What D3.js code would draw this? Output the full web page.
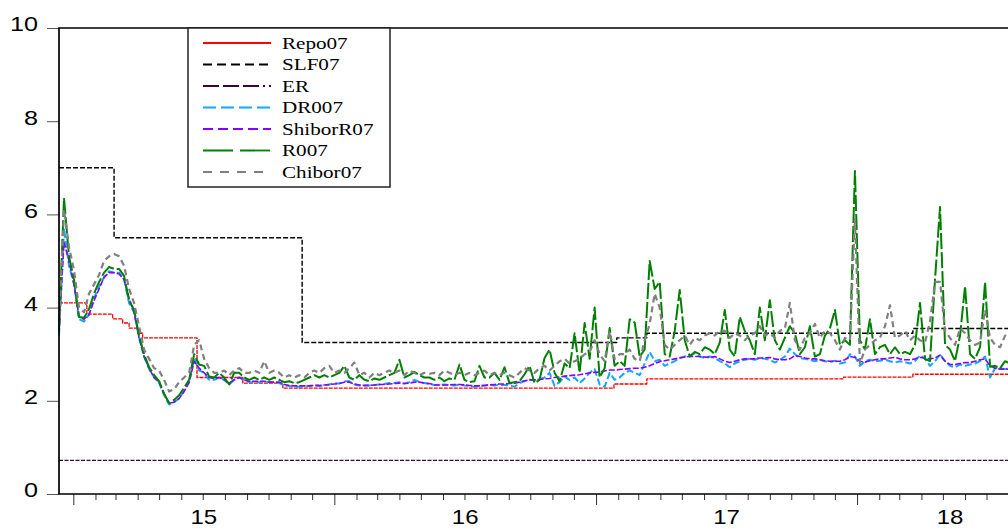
<!DOCTYPE html>
<html>
<head>
<meta charset="utf-8">
<script src="https://cdn.jsdelivr.net/npm/d3@7"></script>
<style>
body { margin: 0; background: #fff; }
svg { display: block; }
</style>
</head>
<body>
<script>
// weekly samples, the first one is 2014-12-12
var firstDay = new Date(2014, 11, 12);
var lastDay = new Date(2018, 8, 18);

var r007 = [
3.5, 6.35, 5.1, 4.6, 3.8, 3.78, 3.97, 4.3, 4.55, 4.75,
4.87, 4.83, 4.83, 4.68, 4.15, 3.95, 3.4, 3.0, 2.72, 2.55,
2.42, 2.15, 1.95, 2.02, 2.12, 2.28, 2.45, 3.0, 2.78, 2.75,
2.52, 2.5, 2.6, 2.5, 2.35, 2.6, 2.6, 2.5,
2.45, 2.5, 2.45, 2.5, 2.45, 2.5, 2.45, 2.4, 2.42, 2.38,
2.4, 2.45, 2.5, 2.55, 2.5, 2.55, 2.5, 2.55, 2.6, 2.75,
2.5, 2.45, 2.55, 2.45, 2.42, 2.48, 2.45, 2.5, 2.55, 2.6,
2.88, 2.5, 2.55, 2.62, 2.55, 2.5, 2.5,
2.45, 2.5, 2.42, 2.48, 2.45, 2.78, 2.45, 2.4, 2.42, 2.75,
2.5, 2.5, 2.6, 2.45, 2.72, 2.38, 2.4, 2.42, 2.57, 2.75,
2.38, 2.45, 2.92, 3.1, 2.6, 2.42, 2.8, 2.7, 3.45, 2.6,
3.67, 2.9, 4.0, 2.5, 2.7, 3.56, 2.75, 2.85, 2.75, 3.75,
3.68, 2.95, 3.1, 5.0, 4.4, 4.55, 3.0, 2.95, 3.5, 4.38,
3.3, 2.95, 3.05, 3.0, 3.15, 3.1, 3.0, 3.25, 3.95, 3.1,
2.95, 3.8, 3.5, 3.3, 3.0, 4.0, 3.3, 4.16, 3.3, 3.1,
3.35, 3.6, 3.45, 3.0, 3.15, 3.6, 2.95, 3.0, 3.4, 3.55,
3.95, 3.2, 3.3, 3.2, 6.93, 3.3, 3.1, 3.75, 3.0, 3.15,
3.2, 3.0, 3.15, 3.0, 3.05, 3.0, 3.2, 4.1, 2.9, 2.85,
4.6, 6.16, 3.2, 3.1, 2.85, 3.4, 4.46, 3.0, 2.9, 3.15,
4.55, 2.73, 2.75, 2.7, 2.85, 2.8
];

var chibor07 = [
3.6, 6.1, 5.3, 4.8, 4.0, 3.9, 4.3, 4.5, 4.7, 5.0,
5.1, 5.15, 5.1, 4.9, 4.4, 4.1, 3.6, 3.1, 2.9, 2.7,
2.65, 2.45, 2.2, 2.25, 2.4, 2.5, 2.6, 3.2, 3.3, 2.9,
2.7, 2.6, 2.6, 2.65, 2.55, 2.65, 2.7, 2.6,
2.6, 2.65, 2.6, 2.85, 2.6, 2.65, 2.6, 2.5, 2.55, 2.5,
2.55, 2.5, 2.6, 2.65, 2.6, 2.7, 2.75, 2.6, 2.65, 2.6,
2.7, 2.82, 2.55, 2.6, 2.5, 2.6, 2.55, 2.6, 2.65, 2.6,
2.65, 2.55, 2.65, 2.6, 2.55, 2.6, 2.58,
2.6, 2.55, 2.65, 2.6, 2.55, 2.6, 2.55, 2.6, 2.55, 2.6,
2.65, 2.55, 2.6, 2.55, 2.6, 2.55, 2.5, 2.6, 2.7, 2.65,
2.6, 2.7, 2.75, 2.65, 2.75, 2.85, 2.9, 2.8, 2.85, 2.9,
3.0, 3.05, 3.3, 3.0, 2.85, 3.5, 2.9, 3.0, 3.0, 3.1,
2.9, 2.85, 3.3, 3.65, 4.3, 4.0, 3.2, 3.1, 3.2, 3.3,
3.4, 3.2, 3.35, 3.3, 3.4, 3.45, 3.4, 3.5, 3.5, 3.35,
3.45, 3.4, 3.3, 3.4, 3.45, 3.6, 3.4, 3.45, 3.35, 3.5,
3.55, 4.1, 3.3, 3.1, 3.35, 3.45, 3.65, 3.35, 3.5, 3.45,
3.3, 3.1, 3.35, 3.3, 5.9, 2.8, 3.1, 3.2, 3.3, 3.35,
3.6, 4.05, 3.35, 3.4, 3.5, 3.3, 3.4, 3.3, 3.25, 3.7,
4.55, 4.55, 3.5, 3.35, 3.2, 3.55, 3.45, 3.3, 3.2, 3.25,
3.95, 3.35, 3.2, 3.15, 3.4, 3.3
];

var dr007 = [
3.4, 5.7, 4.9, 4.5, 3.75, 3.7, 3.85, 4.2, 4.45, 4.65,
4.78, 4.75, 4.75, 4.6, 4.1, 3.9, 3.35, 2.95, 2.68, 2.5,
2.38, 2.12, 1.92, 1.97, 2.05, 2.22, 2.4, 2.9, 2.65, 2.6,
2.45, 2.45, 2.5, 2.45, 2.35, 2.45, 2.5, 2.45,
2.4, 2.4, 2.4, 2.42, 2.4, 2.4, 2.38, 2.33, 2.32, 2.3,
2.3, 2.3, 2.32, 2.33, 2.32, 2.33, 2.35, 2.38, 2.37, 2.42,
2.42, 2.35, 2.33, 2.33, 2.33, 2.34, 2.35, 2.36, 2.38, 2.38,
2.4, 2.37, 2.4, 2.45, 2.4, 2.38, 2.36,
2.34, 2.34, 2.35, 2.34, 2.33, 2.35, 2.33, 2.32, 2.3, 2.32,
2.33, 2.34, 2.33, 2.34, 2.34, 2.33, 2.3, 2.38, 2.42, 2.45,
2.44, 2.46, 2.5, 2.6, 2.32, 2.4, 2.52, 2.45, 2.5, 2.38,
2.48, 2.6, 2.68, 2.35, 2.3, 2.6, 2.45, 2.5, 2.6, 2.65,
2.6, 2.55, 2.8, 3.05, 2.85, 2.88, 2.75, 2.8, 2.85, 2.92,
2.95, 2.95, 3.02, 2.95, 2.92, 2.95, 2.92, 2.85, 2.8, 2.72,
2.8, 2.85, 2.88, 2.9, 2.88, 2.92, 2.9, 2.88, 2.82, 2.88,
2.95, 3.12, 3.0, 2.92, 2.9, 2.88, 2.85, 2.88, 2.85, 2.83,
2.86, 2.8, 2.82, 3.0, 2.95, 2.75, 2.85, 2.88, 2.85, 2.86,
2.88, 2.85, 2.82, 2.85, 2.83, 2.8, 2.85, 2.98, 2.9, 2.75,
2.85, 3.0, 2.85, 2.75, 2.72, 2.78, 2.75, 2.78, 2.8, 2.85,
2.95, 2.5, 2.7, 2.7, 2.68, 2.7
];

var shiborR07 = [
3.5, 5.4, 5.0, 4.5, 3.8, 3.75, 3.85, 4.15, 4.4, 4.65,
4.75, 4.75, 4.72, 4.6, 4.2, 3.9, 3.35, 2.95, 2.7, 2.5,
2.4, 2.15, 1.95, 1.97, 2.05, 2.2, 2.4, 2.85, 2.7, 2.6,
2.5, 2.48, 2.5, 2.45, 2.38, 2.45, 2.5, 2.45,
2.42, 2.42, 2.42, 2.42, 2.4, 2.4, 2.4, 2.35, 2.33, 2.32,
2.32, 2.32, 2.32, 2.33, 2.33, 2.34, 2.35, 2.36, 2.37, 2.4,
2.4, 2.36, 2.34, 2.33, 2.33, 2.34, 2.35, 2.35, 2.36, 2.37,
2.38, 2.37, 2.38, 2.4, 2.4, 2.38, 2.37,
2.34, 2.34, 2.34, 2.34, 2.35, 2.35, 2.34, 2.33, 2.32, 2.32,
2.33, 2.34, 2.35, 2.36, 2.36, 2.37, 2.38, 2.4, 2.43, 2.45,
2.45, 2.46, 2.47, 2.48, 2.5, 2.51, 2.53, 2.54, 2.55, 2.56,
2.58, 2.6, 2.61, 2.62, 2.64, 2.66, 2.66, 2.67, 2.68, 2.69,
2.7, 2.7, 2.72, 2.75, 2.8, 2.84, 2.86, 2.88, 2.9, 2.92,
2.94, 2.95, 2.95, 2.95, 2.94, 2.93, 2.95, 2.9, 2.85, 2.82,
2.85, 2.88, 2.9, 2.9, 2.9, 2.92, 2.92, 2.93, 2.9, 2.88,
2.88, 2.9, 2.97, 2.95, 2.92, 2.9, 2.9, 2.88, 2.86, 2.85,
2.85, 2.85, 2.88, 2.95, 2.93, 2.85, 2.83, 2.86, 2.88, 2.9,
2.9, 2.92, 2.93, 2.9, 2.88, 2.88, 2.9, 2.93, 2.92, 2.9,
2.92, 2.98, 2.85, 2.78, 2.78, 2.8, 2.82, 2.82, 2.85, 2.88,
2.9, 2.75, 2.7, 2.68, 2.68, 2.68
];

// policy rates move in steps: date of change and the new level
var repoDates = ["2014-12-12", "2015-01-20", "2015-02-25", "2015-03-11", "2015-03-20", "2015-04-01",
                 "2015-04-08", "2015-06-23", "2015-08-26", "2015-10-21", "2017-01-26", "2017-03-13",
                 "2017-12-13", "2018-03-20"];
var repo07 = [4.1, 3.86, 3.76, 3.67, 3.56, 3.45, 3.35, 2.5, 2.38, 2.27, 2.36, 2.47, 2.51, 2.57];

var slfDates = ["2014-12-12", "2015-02-27", "2015-11-17", "2017-01-30", "2017-03-13", "2018-03-20"];
var slf07 = [7.0, 5.5, 3.25, 3.35, 3.45, 3.55];

var erDates = ["2014-12-12"];
var er = [0.72];

var yTicks = [0, 2, 4, 6, 8, 10];
var yearLabels = ["15", "16", "17", "18"];
var seriesNames = ["Repo07", "SLF07", "ER", "DR007", "ShiborR07", "R007", "Chibor07"];

var styles = {
    "Repo07":    {color: "#ff0000", width: 1.3, dash: "4,1",   key: null},
    "SLF07":     {color: "#000000", width: 1.4, dash: "5,2",   key: "9,5"},
    "ER":        {color: "#3c0040", width: 1.2, dash: "4,1.5", key: "16,4,16,4,16,4,2,4"},
    "DR007":     {color: "#12a8f5", width: 2,   dash: "7,3",   key: "13,5"},
    "ShiborR07": {color: "#8a00ff", width: 1.6, dash: "6,2",   key: "10,5"},
    "R007":      {color: "#008000", width: 2,   dash: "16,3",  key: "30,7"},
    "Chibor07":  {color: "#808080", width: 2.2, dash: "6,4",   key: "9,8"}
};

var svg = d3.select("body").append("svg");
svg.attr("width", 1008);
svg.attr("height", 529);

var x = d3.scaleTime().domain([firstDay, lastDay]).range([59, 1043]);
var y = d3.scaleLinear().domain([0, 10]).range([494, 28]);

var parse = d3.timeParse("%Y-%m-%d");
var weeks = r007.map(function(d, i){ return d3.timeDay.offset(firstDay, 7 * i); });

var weekly = function(values){
    return values.map(function(v, i){ return [weeks[i], v]; });
};
var steps = function(dates, values){
    var pts = dates.map(function(d, i){ return [parse(d), values[i]]; });
    pts.push([lastDay, values[values.length - 1]]);
    return pts;
};

var series = {
    "Repo07": steps(repoDates, repo07),
    "SLF07": steps(slfDates, slf07),
    "ER": steps(erDates, er),
    "DR007": weekly(dr007),
    "ShiborR07": weekly(shiborR07),
    "R007": weekly(r007),
    "Chibor07": weekly(chibor07)
};

var line = d3.line().x(function(d){ return x(d[0]); }).y(function(d){ return y(d[1]); });
var stepLine = d3.line().curve(d3.curveStepAfter).x(function(d){ return x(d[0]); }).y(function(d){ return y(d[1]); });

//data lines, drawn in the legend order
seriesNames.forEach(function(name){
    var s = styles[name];
    var gen = (name == "Repo07" || name == "SLF07" || name == "ER") ? stepLine : line;
    svg.append("path")
        .datum(series[name])
        .attr("d", gen)
        .attr("fill", "none")
        .attr("stroke", s.color)
        .attr("stroke-width", s.width)
        .attr("stroke-dasharray", s.dash)
        .attr("stroke-linejoin", "round");
});

//y axis
var yAxis = d3.axisLeft(y).tickValues(yTicks).tickSize(12).tickPadding(9);
var gy = svg.append("g").attr("transform", "translate(59,0)").call(yAxis);
gy.select(".domain").remove();
gy.selectAll(".tick line").attr("stroke", "#555");
gy.selectAll(".tick text")
    .attr("font-family", "'Liberation Sans', Arial, sans-serif")
    .attr("font-size", 21)
    .attr("fill", "#000")
    .attr("dy", "0.14em")
    .attr("x", -21 / 1.2)
    .attr("transform", "scale(1.2,1)");

//x axis: month ticks, longer at the new year
var xAxis = d3.axisBottom(x).ticks(d3.timeMonth.every(1)).tickSize(6).tickFormat("");
var gx = svg.append("g").attr("transform", "translate(0,494)").call(xAxis);
gx.select(".domain").remove();
gx.selectAll(".tick line")
    .attr("stroke", "#333")
    .attr("y2", function(d){ return d.getMonth() == 0 ? 11 : 6; });

//year labels sit in the middle of each year
yearLabels.forEach(function(lab){
    var yr = 2000 + (+lab);
    var a = d3.max([new Date(yr, 0, 1), firstDay]);
    var b = d3.min([new Date(yr + 1, 0, 1), lastDay]);
    var cx = (x(a) + x(b)) / 2;
    svg.append("text")
        .attr("transform", "translate(" + cx + ",524) scale(1.2,1)")
        .attr("text-anchor", "middle")
        .attr("font-family", "'Liberation Sans', Arial, sans-serif")
        .attr("font-size", 20)
        .text(lab);
});

//frame
var x0 = x.range()[0], x1 = x.range()[1];
var yTop = y.range()[1], yBot = y.range()[0];
svg.append("path")
    .attr("d", "M" + x1 + "," + yTop + "H" + x0 + "V" + yBot + "H" + x1)
    .attr("fill", "none")
    .attr("stroke", "#000")
    .attr("stroke-width", 1.7);

//legend
var legend = svg.append("g").attr("transform", "translate(188,28)");
legend.append("rect")
    .attr("width", 202)
    .attr("height", 159)
    .attr("fill", "#fff")
    .attr("stroke", "#222")
    .attr("stroke-width", 1.5);

seriesNames.forEach(function(name, i){
    var s = styles[name];
    var ly = 15 + i * 21.5;
    legend.append("line")
        .attr("x1", 15).attr("x2", 83)
        .attr("y1", ly).attr("y2", ly)
        .attr("stroke", s.color)
        .attr("stroke-width", 1.8)
        .attr("stroke-dasharray", s.key);
    legend.append("text")
        .attr("transform", "translate(94," + (ly + 5.5) + ") scale(1.28,1)")
        .attr("font-family", "'Liberation Serif', 'Times New Roman', serif")
        .attr("font-size", 16.5)
        .text(name);
});
</script>
</body>
</html>
